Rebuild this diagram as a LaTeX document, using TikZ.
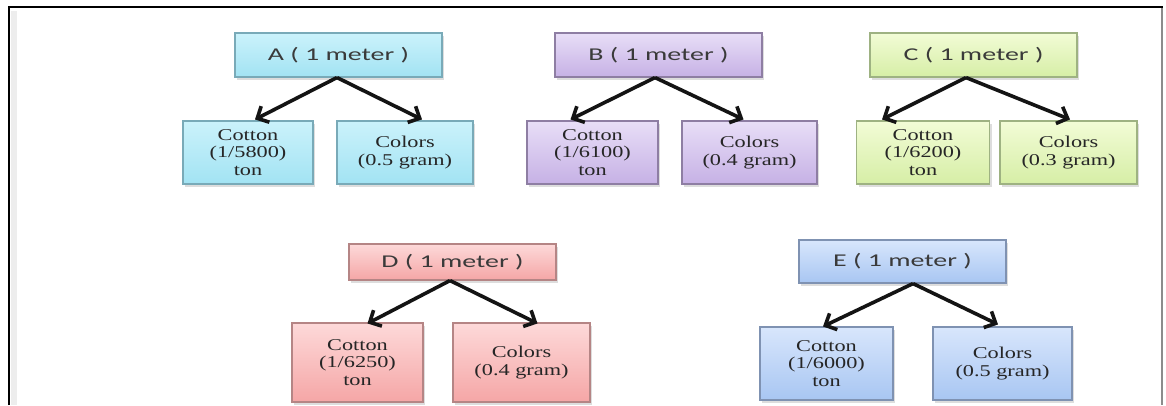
\documentclass[tikz,border=0pt]{standalone}
\usepackage{fontspec}
\usetikzlibrary{shadows,arrows.meta,calc}
\newfontfamily\topfont[FakeStretch=1.55]{Carlito}
\newfontfamily\kidfont[FakeStretch=1.35]{Liberation Serif}
\definecolor{aT}{HTML}{CBF2FB}\definecolor{aB}{HTML}{A2E3F3}\definecolor{aD}{HTML}{79AAB8}
\definecolor{bT}{HTML}{E8DEF7}\definecolor{bB}{HTML}{C6B1E5}\definecolor{bD}{HTML}{8E7EA3}
\definecolor{cT}{HTML}{F2FCD6}\definecolor{cB}{HTML}{D6EEA6}\definecolor{cD}{HTML}{9EB282}
\definecolor{dT}{HTML}{FDD9D9}\definecolor{dB}{HTML}{F5A6A6}\definecolor{dD}{HTML}{B58585}
\definecolor{eT}{HTML}{D8E6FC}\definecolor{eB}{HTML}{A8C6F2}\definecolor{eD}{HTML}{7F92B2}
\definecolor{toptext}{HTML}{3A3A3A}
\tikzset{
  basebox/.style={rectangle, line width=1.1pt, inner sep=2pt, align=center,
    drop shadow={shadow xshift=2pt, shadow yshift=-2.5pt, opacity=0.22, fill=black!60}},
  parentbox/.style={basebox, minimum width=207pt, minimum height=44pt,
    font=\topfont\fontsize{18}{20}\selectfont, text=toptext},
  kidbox/.style={basebox, minimum height=63pt,
    font=\kidfont\fontsize{16.5}{17.5}\selectfont, text=black!85},
  cA/.style={top color=aT, bottom color=aB, draw=aD},
  cB/.style={top color=bT, bottom color=bB, draw=bD},
  cC/.style={top color=cT, bottom color=cB, draw=cD},
  cD/.style={top color=dT, bottom color=dB, draw=dD},
  cE/.style={top color=eT, bottom color=eB, draw=eD},
  arr/.style={line width=3.6pt, black!92, -{Straight Barb[length=9pt,width=18pt,line width=3.6pt]}}
}
\begin{document}
\begin{tikzpicture}[x=1pt,y=-1pt]
\useasboundingbox (0,0) rectangle (1166,405);
\fill[white] (0,0) rectangle (1166,405);
% frame
\draw[black!7, line width=6pt] (14,405) -- (14,11);
\draw[line width=2pt] (9,405) -- (9,7) -- (1163,7);
\draw[black!45, line width=1.3pt] (1162,8) -- (1162,405);

% A
\node[parentbox, cA] (A) at (338.5,55) {A ( 1 meter )};
\node[kidbox, cA, minimum width=130pt] (Acot) at (248,152.5) {Cotton\\(1/5800)\\ton};
\node[kidbox, cA, minimum width=136pt] (Acol) at (405,152.5) {Colors\\(0.5 gram)};
% B
\node[parentbox, cB] (B) at (658.5,55) {B ( 1 meter )};
\node[kidbox, cB, minimum width=131pt] (Bcot) at (592.5,152.5) {Cotton\\(1/6100)\\ton};
\node[kidbox, cB, minimum width=135pt] (Bcol) at (749.5,152.5) {Colors\\(0.4 gram)};
% C
\node[parentbox, cC] (C) at (973.5,55) {C ( 1 meter )};
\node[kidbox, cC, minimum width=133pt] (Ccot) at (923,152.5) {Cotton\\(1/6200)\\ton};
\node[kidbox, cC, minimum width=137pt] (Ccol) at (1068.5,152.5) {Colors\\(0.3 gram)};
% D
\node[parentbox, cD, minimum height=36pt] (D) at (452.5,262) {D ( 1 meter )};
\node[kidbox, cD, minimum width=131pt, minimum height=79pt] (Dcot) at (357.5,362.5) {Cotton\\(1/6250)\\ton};
\node[kidbox, cD, minimum width=137pt, minimum height=79pt] (Dcol) at (521.5,362.5) {Colors\\(0.4 gram)};
% E
\node[parentbox, cE, minimum height=43pt] (E) at (902.5,261.5) {E ( 1 meter )};
\node[kidbox, cE, minimum width=133pt, minimum height=73pt] (Ecot) at (826.5,363.5) {Cotton\\(1/6000)\\ton};
\node[kidbox, cE, minimum width=139pt, minimum height=73pt] (Ecol) at (1002.5,363.5) {Colors\\(0.5 gram)};

% arrows
\draw[arr] ([xshift=-1.5pt]A.south) -- ([xshift=7pt,yshift=1pt]Acot.north);
\draw[arr] ([xshift=-1.5pt]A.south) -- ([xshift=17pt,yshift=1pt]Acol.north);
\draw[arr] ([xshift=-3.5pt]B.south) -- ([xshift=-22pt,yshift=1pt]Bcot.north);
\draw[arr] ([xshift=-3.5pt]B.south) -- ([xshift=-6pt,yshift=1pt]Bcol.north);
\draw[arr] ([xshift=-7.5pt]C.south) -- ([xshift=-41pt,yshift=1pt]Ccot.north);
\draw[arr] ([xshift=-7.5pt]C.south) -- ([xshift=1.5pt,yshift=1pt]Ccol.north);
\draw[arr] ([xshift=-2.5pt]D.south) -- ([xshift=10pt,yshift=-1pt]Dcot.north);
\draw[arr] ([xshift=-2.5pt]D.south) -- ([xshift=16pt,yshift=-1pt]Dcol.north);
\draw[arr] ([xshift=10.5pt]E.south) -- ([xshift=-3.5pt]Ecot.north);
\draw[arr] ([xshift=10.5pt]E.south) -- ([xshift=-4.5pt,yshift=2pt]Ecol.north);
\end{tikzpicture}
\end{document}
